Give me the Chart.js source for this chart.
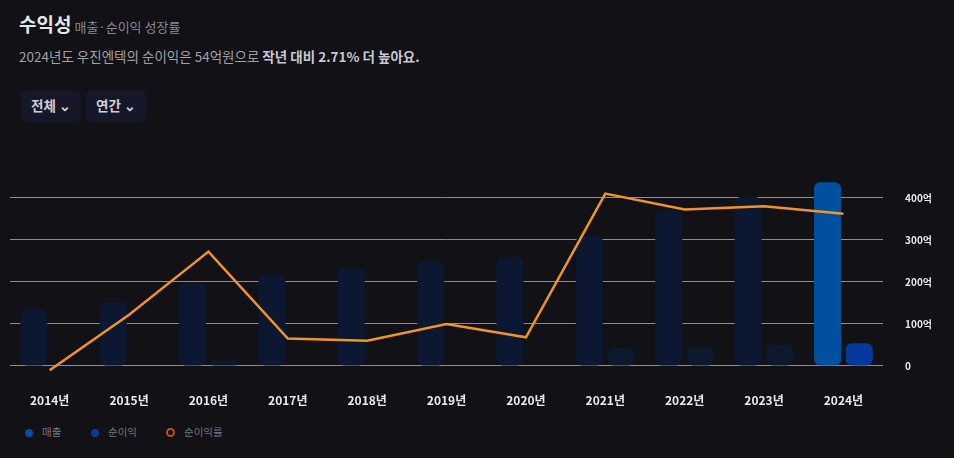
<!DOCTYPE html>
<html><head><meta charset="utf-8">
<script src="https://cdn.jsdelivr.net/npm/chart.js@4"></script>
<style>
body{margin:0;background:#111116;width:954px;height:458px;overflow:hidden;font-family:"Noto Sans CJK KR","Noto Sans",sans-serif;position:relative}
.t{position:absolute;left:19px;top:10px;color:#e6e6ea;font-size:19px;font-weight:700}
.t span{font-size:13px;color:#8a8a93;font-weight:400;margin-left:3px}
.s{position:absolute;left:19px;top:46px;color:#a0a0a8;font-size:13.5px}
.s b{color:#c8c8cf;font-weight:600}
.btn{position:absolute;top:90px;height:32px;background:#17172a;border-radius:6px;color:#d0d0d6;font-size:13.5px;font-weight:700;line-height:30px;padding:0 10px}
.lg{position:absolute;top:424px;font-size:10.5px;color:#77777f}
.dot{display:inline-block;width:8px;height:8px;border-radius:50%;margin-right:9px;vertical-align:-1px}
#c{position:absolute;left:0;top:150px}
</style></head><body>
<div class="t">수익성<span>매출·순이익 성장률</span></div>
<div class="s">2024년도 우진엔텍의 순이익은 54억원으로 <b>작년 대비 2.71% 더 높아요.</b></div>
<div class="btn" style="left:21px">전체 ⌄</div>
<div class="btn" style="left:86px">연간 ⌄</div>
<div class="lg" style="left:25px"><span class="dot" style="background:#0050a8"></span>매출</div>
<div class="lg" style="left:91px"><span class="dot" style="background:#0a3aa0"></span>순이익</div>
<div class="lg" style="left:166px"><span class="dot" style="border:2px solid #c0501a;width:5px;height:5px"></span>순이익률</div>
<canvas id="c" width="954" height="281"></canvas>
<script>
const years=['2014년','2015년','2016년','2017년','2018년','2019년','2020년','2021년','2022년','2023년','2024년'];
const revenue=[135,152,197,217,232,250,260,310,370,402,437];
const netIncome=[-3,1,13,-1,-2,1,-1,42,45,50,54];
const margin=[-0.33,4.07,9.07,2.17,2.0,3.33,2.27,13.67,12.4,12.67,12.07];
const yTicks=[0,100,200,300,400];
const revColors=revenue.map((v,i)=>i===revenue.length-1?'#0050a0':'#0c1832');
const netColors=netIncome.map((v,i)=>i===netIncome.length-1?'#063a9a':'#0d1a2e');
new Chart(document.getElementById('c'),{
 data:{labels:years,datasets:[
  {type:'line',data:margin,yAxisID:'y1',borderColor:'#f0961e',borderWidth:2.5,pointRadius:0,tension:0,order:0},
  {type:'bar',data:revenue,backgroundColor:revColors,borderRadius:6,borderSkipped:false,categoryPercentage:0.8,barPercentage:0.85,order:1},
  {type:'bar',data:netIncome,backgroundColor:netColors,borderRadius:6,borderSkipped:false,categoryPercentage:0.8,barPercentage:0.85,order:1}
 ]},
 options:{responsive:false,animation:false,
  layout:{padding:{left:10,right:0,top:31,bottom:8}},
  plugins:{legend:{display:false},tooltip:{enabled:false}},
  scales:{
   x:{grid:{display:false,drawTicks:false},border:{display:false},ticks:{color:'#e8e8ec',padding:15,font:{size:12,weight:'bold',family:'"Noto Sans CJK KR"'}}},
   y:{position:'right',min:-30,max:440,border:{display:false},
      afterBuildTicks:a=>{a.ticks=yTicks.map(v=>({value:v}));},
      grid:{color:'#8c8c94',lineWidth:1,drawTicks:false},
      ticks:{color:'#e8e8ec',padding:22,font:{size:10,weight:'bold',family:'"Noto Sans CJK KR"'},callback:v=>v===0?'0':v+'억'}},
   y1:{display:false,min:-1,max:440/30}
  }}
});
</script></body></html>
